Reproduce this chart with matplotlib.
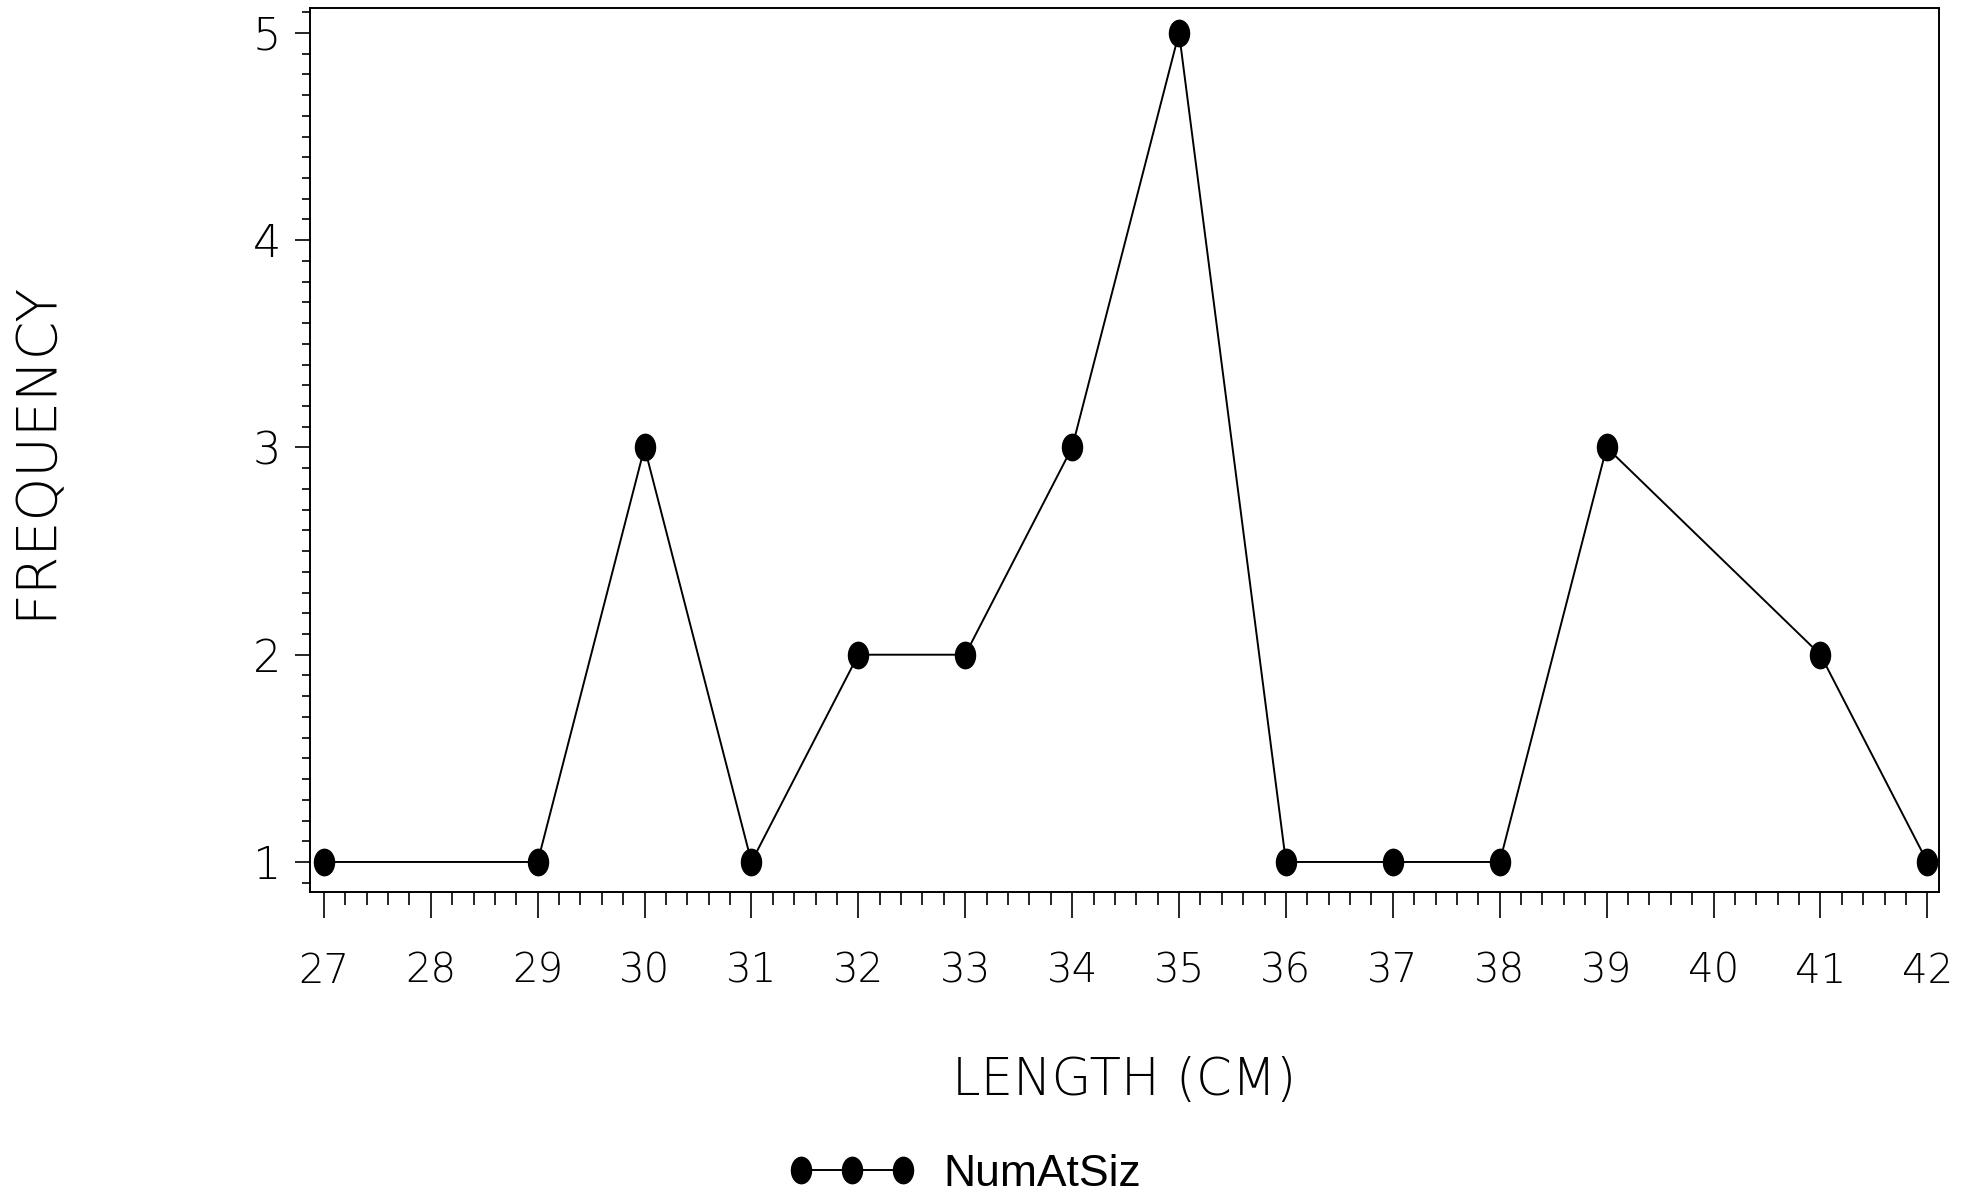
import matplotlib
matplotlib.use("Agg")
import matplotlib.pyplot as plt
from matplotlib.path import Path
from matplotlib.transforms import Affine2D
from matplotlib.ticker import AutoMinorLocator

# Data
length_cm = [27, 29, 30, 31, 32, 33, 34, 35, 36, 37, 38, 39, 41, 42]
num_at_size = [1, 1, 3, 1, 2, 2, 3, 5, 1, 1, 1, 3, 2, 1]
x_ticks = list(range(27, 43))
y_ticks = [1, 2, 3, 4, 5]

thin = ['DejaVu Sans']

fig = plt.figure(figsize=(19.68, 11.98), dpi=100)
ax = fig.add_axes([0.1575, 0.2554, 0.8278, 0.7379])

# slightly tall ellipse marker
ell = Path.unit_circle().transformed(Affine2D().scale(0.76, 1.0))

ax.plot(length_cm, num_at_size, color='black', lw=1.4, marker=ell,
        markersize=19, markerfacecolor='black', markeredgecolor='black',
        label='NumAtSiz')

ax.set_xlim(26.87, 42.11)
ax.set_ylim(0.855, 5.12)
ax.set_xticks(x_ticks)
ax.set_yticks(y_ticks)
ax.xaxis.set_minor_locator(AutoMinorLocator(5))
ax.yaxis.set_minor_locator(AutoMinorLocator(10))

ax.tick_params(axis='x', which='major', direction='out', length=19, width=1.2, pad=24)
ax.tick_params(axis='x', which='minor', direction='out', length=9.5, width=1.2)
ax.tick_params(axis='y', which='major', direction='out', length=11, width=1.2, pad=10)
ax.tick_params(axis='y', which='minor', direction='out', length=5.5, width=1.2)
for sp in ax.spines.values():
    sp.set_linewidth(1.4)

for lab in ax.get_xticklabels():
    lab.set_fontfamily(thin)
    lab.set_fontsize(29)
    lab.set_fontweight('light')
for lab in ax.get_yticklabels():
    lab.set_fontfamily(thin)
    lab.set_fontsize(32)
    lab.set_fontweight('light')

ax.set_xlabel('LENGTH (CM)', fontsize=37, family=thin, fontweight='light')
ax.xaxis.set_label_coords(0.5, -0.185)
ax.set_ylabel('FREQUENCY', fontsize=40, family=thin, fontweight='light')
ax.yaxis.set_label_coords(-0.152, 0.5)

leg = fig.legend(loc='center', bbox_to_anchor=(0.49, 0.02), numpoints=3,
                 frameon=False, handlelength=2.9, handletextpad=0.6,
                 prop={'family': ['Liberation Sans', 'DejaVu Sans'], 'size': 32})

fig.savefig('out.png', dpi=100, facecolor='white')
